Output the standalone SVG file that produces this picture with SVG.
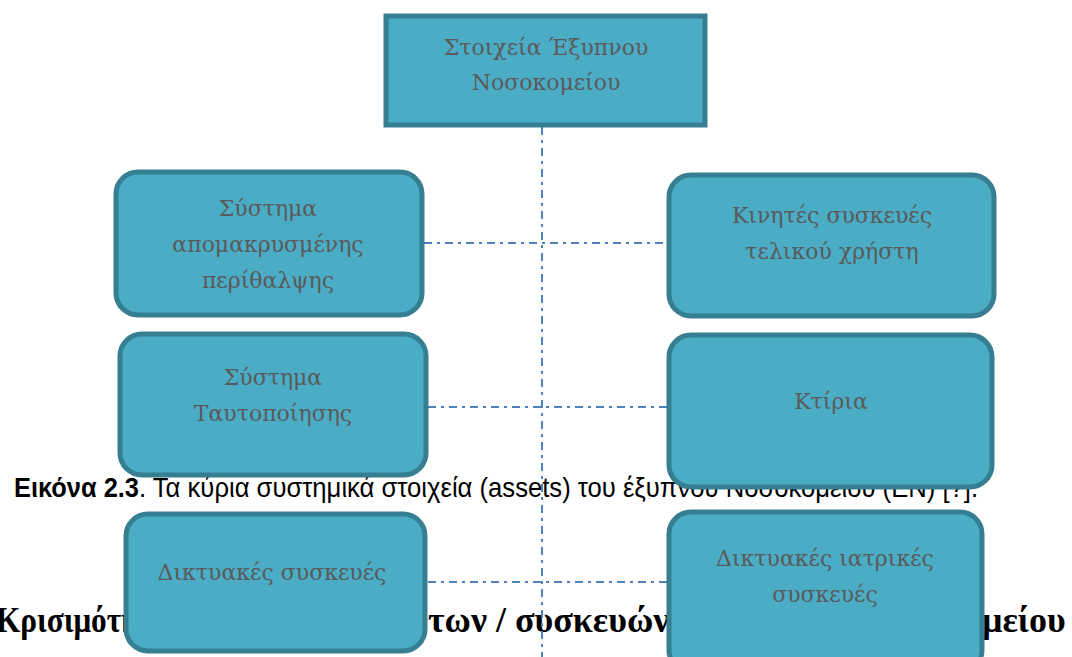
<svg xmlns="http://www.w3.org/2000/svg" width="1072" height="657" viewBox="0 0 1072 657">
  <style>
    .box { fill: #4BACC6; stroke: #367F92; stroke-width: 5; }
    .lbl { font-family: "DejaVu Serif", "Liberation Serif", serif; font-size: 22px; fill: #5A5A5A; text-anchor: middle; }
    .link { fill: none; stroke: #4F81BD; stroke-width: 2; stroke-dasharray: 8 5 3 5; }
    .cap { font-family: "Liberation Sans", "DejaVu Sans", sans-serif; font-size: 28px; fill: #000; }
    .head { font-family: "Liberation Serif", "DejaVu Serif", serif; font-size: 36px; font-weight: bold; fill: #000; }
  </style>

  <rect width="1072" height="657" fill="#FFFFFF"/>

  <!-- page text lying beneath the chart -->
  <g id="page-text">
    <text class="cap" x="14" y="497" font-weight="bold" textLength="125" lengthAdjust="spacingAndGlyphs">Εικόνα 2.3</text>
    <text class="cap" x="139" y="497" textLength="839" lengthAdjust="spacingAndGlyphs">. Τα κύρια συστημικά στοιχεία (assets) του έξυπνου Νοσοκομείου (ΕΝ) [?].</text>
    <text class="head" y="632"><tspan x="-4" textLength="300" lengthAdjust="spacingAndGlyphs">Κρισιμότητα συστημά</tspan><tspan x="428">των / συσκευών</tspan><tspan x="982">μείου</tspan></text>
  </g>

  <!-- dash-dot connectors -->
  <g id="connectors">
    <line class="link" x1="542" y1="127" x2="542" y2="657"/>
    <line class="link" x1="424" y1="243" x2="667" y2="243"/>
    <line class="link" x1="428" y1="407" x2="667" y2="407"/>
    <line class="link" x1="428" y1="582" x2="667" y2="582"/>
  </g>

  <g id="root">
    <rect class="box" x="386" y="16" width="319" height="109"/>
    <text class="lbl" x="546" y="55">Στοιχεία Έξυπνου</text>
    <text class="lbl" x="546" y="90">Νοσοκομείου</text>
  </g>

  <g id="telecare">
    <rect class="box" x="116" y="172" width="306" height="143" rx="22"/>
    <text class="lbl" x="268" y="216">Σύστημα</text>
    <text class="lbl" x="268" y="252">απομακρυσμένης</text>
    <text class="lbl" x="268" y="288">περίθαλψης</text>
  </g>

  <g id="mobile">
    <rect class="box" x="669" y="175" width="325" height="141" rx="22"/>
    <text class="lbl" x="832" y="223">Κινητές συσκευές</text>
    <text class="lbl" x="832" y="259">τελικού χρήστη</text>
  </g>

  <g id="identity">
    <rect class="box" x="120" y="334" width="306" height="141" rx="22"/>
    <text class="lbl" x="273" y="385">Σύστημα</text>
    <text class="lbl" x="273" y="421">Ταυτοποίησης</text>
  </g>

  <g id="buildings">
    <rect class="box" x="669" y="335" width="323" height="152" rx="22"/>
    <text class="lbl" x="831" y="409">Κτίρια</text>
  </g>

  <g id="network">
    <rect class="box" x="126" y="514" width="299" height="137" rx="22"/>
    <text class="lbl" x="272" y="580">Δικτυακές συσκευές</text>
  </g>

  <g id="medical">
    <rect class="box" x="669" y="512" width="313" height="160" rx="22"/>
    <text class="lbl" x="825" y="566">Δικτυακές ιατρικές</text>
    <text class="lbl" x="825" y="602">συσκευές</text>
  </g>
</svg>
